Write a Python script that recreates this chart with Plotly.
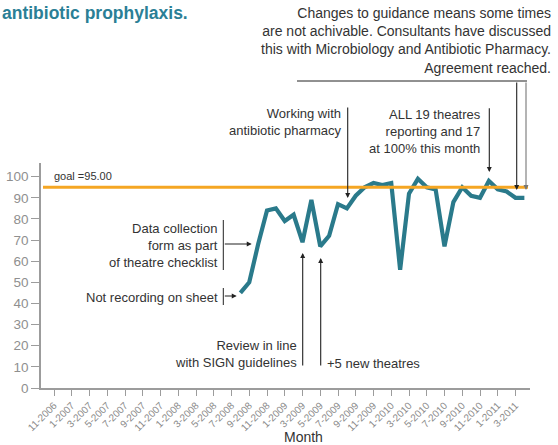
import plotly.graph_objects as go

# ---------------- data ----------------
# month index counted from 11-2006 (=0)
tick_labels = ["11-2006", "1-2007", "3-2007", "5-2007", "7-2007", "9-2007", "11-2007",
               "1-2008", "3-2008", "5-2008", "7-2008", "9-2008", "11-2008",
               "1-2009", "3-2009", "5-2009", "7-2009", "9-2009", "11-2009",
               "1-2010", "3-2010", "5-2010", "7-2010", "9-2010", "11-2010",
               "1-2011", "3-2011"]
months = ["8-2008", "9-2008", "10-2008", "11-2008", "12-2008",
          "1-2009", "2-2009", "3-2009", "4-2009", "5-2009", "6-2009", "7-2009",
          "8-2009", "9-2009", "10-2009", "11-2009", "12-2009",
          "1-2010", "2-2010", "3-2010", "4-2010", "5-2010", "6-2010", "7-2010",
          "8-2010", "9-2010", "10-2010", "11-2010", "12-2010",
          "1-2011", "2-2011", "3-2011", "4-2011"]
values = [45, 50, 68, 84, 85,
          79, 82, 69, 89, 67, 72, 87,
          85, 91, 95, 97, 96,
          97, 56, 92, 99, 95, 94, 67,
          88, 95, 91, 90, 98,
          94, 93, 90, 90]
goal = 95.0
y_ticks = [0, 10, 20, 30, 40, 50, 60, 70, 80, 90, 100]


def month_index(label):
    m, y = label.split("-")
    return (int(y) - 2006) * 12 + int(m) - 11


x_vals = [month_index(m) for m in months]
tick_vals = [month_index(t) for t in tick_labels]

# ---------------- layout geometry (pixels) ----------------
WIDTH, HEIGHT = 558, 445
L, R, T, B = 41, 530, 163, 388
PW, PH = R - L, B - T
X0 = tick_vals[0]
PX_PER_MONTH = 8.875
x_range = [X0 - (54 - L) / PX_PER_MONTH, X0 + (R - 54) / PX_PER_MONTH]
y_range = [0, PH / 2.113]


def xp(px):
    return (px - L) / PW


def yp(py):
    return (B - py) / PH


TEAL = "#2a7a8b"
ORANGE = "#f5a623"
AXIS_GRAY = "#9c9c9c"
TEXT = "#333333"
FONT = "Liberation Sans, Arial, sans-serif"

fig = go.Figure()
fig.add_trace(go.Scatter(
    x=x_vals, y=values, mode="lines",
    line=dict(color=TEAL, width=4.2),
    hoverinfo="skip", showlegend=False,
))

shapes = [
    # goal line
    dict(type="line", xref="paper", yref="y", x0=xp(43), x1=xp(528), y0=goal, y1=goal,
         line=dict(color=ORANGE, width=3)),
    # bars
    dict(type="line", xref="paper", yref="paper", x0=xp(223.3), x1=xp(223.3), y0=yp(220), y1=yp(270),
         line=dict(color="#222", width=1)),
    dict(type="line", xref="paper", yref="paper", x0=xp(223.3), x1=xp(223.3), y0=yp(288), y1=yp(305),
         line=dict(color="#222", width=1)),
    dict(type="line", xref="paper", yref="paper", x0=xp(297), x1=xp(527), y0=yp(81), y1=yp(81),
         line=dict(color="#222", width=1)),
]

annotations = []


def text_ann(txt, px, py, align="right", size=13, color=TEXT, yanchor="middle", **kw):
    annotations.append(dict(
        text=txt, xref="paper", yref="paper", x=xp(px), y=yp(py),
        xanchor={"right": "right", "left": "left", "center": "center"}[align],
        yanchor=yanchor, align=align, showarrow=False,
        font=dict(family=FONT, size=size, color=color), **kw))


def arrow(tip_px, tip_py, tail_px, tail_py, color="#222"):
    annotations.append(dict(
        text="", xref="paper", yref="paper", x=xp(tip_px), y=yp(tip_py),
        axref="pixel", ayref="pixel", ax=tail_px - tip_px, ay=tail_py - tip_py,
        showarrow=True, arrowhead=2, arrowsize=0.9, arrowwidth=1.1,
        arrowcolor=color, standoff=0))


# title fragment
text_ann("<b>antibiotic prophylaxis.</b>", 0, 13, align="left", size=17.5, color="#2b7f96")
# top-right note
text_ann("Changes to guidance means some times<br>are not achivable. Consultants have discussed<br>"
         "this with Microbiology and Antibiotic Pharmacy.<br>Agreement reached.",
         553, 3, align="right", size=14, yanchor="top")
arrow(516.7, 190, 516.7, 81)
arrow(526, 190, 526, 81, color="#777")

text_ann("goal =95.00", 52, 176, align="left", size=11)

text_ann("Data collection<br>form as part<br>of theatre checklist", 220, 245, align="right")
arrow(251.7, 244, 223.3, 244)
text_ann("Not recording on sheet", 220, 297, align="right")
arrow(236.7, 296, 223.3, 296)

text_ann("Review in line<br>with SIGN guidelines", 299, 354, align="right")
arrow(302.7, 253, 302.7, 367)
text_ann("+5 new theatres", 325, 363.3, align="left")
arrow(320.7, 258, 320.7, 367)

text_ann("Working with<br>antibiotic pharmacy", 342.7, 122, align="right")
arrow(347.7, 198, 347.7, 106)

text_ann("ALL 19 theatres<br>reporting and 17<br>at 100% this month", 483.3, 131.5, align="right")
arrow(489.3, 172, 489.3, 106.7)

text_ann("Month", 303, 437, align="center", size=14)

fig.update_layout(
    width=WIDTH, height=HEIGHT,
    margin=dict(l=L, r=WIDTH - R, t=T, b=HEIGHT - B, pad=0),
    paper_bgcolor="white", plot_bgcolor="white",
    font=dict(family=FONT, color=TEXT),
    shapes=shapes, annotations=annotations,
    xaxis=dict(
        range=x_range, tickmode="array", tickvals=tick_vals, ticktext=tick_labels,
        tickangle=-45, tickfont=dict(size=10, color="#8a8a8a", family=FONT),
        ticks="outside", ticklen=6, tickcolor=AXIS_GRAY, tickwidth=1,
        showline=True, linecolor=AXIS_GRAY, linewidth=1.5,
        showgrid=False, zeroline=False, automargin=False,
    ),
    yaxis=dict(
        range=y_range, tickmode="array", tickvals=y_ticks,
        tickfont=dict(size=13.5, color="#8f8f8f", family=FONT),
        ticks="outside", ticklen=8, tickcolor=AXIS_GRAY, tickwidth=1,
        showline=True, linecolor=AXIS_GRAY, linewidth=1.5,
        showgrid=False, zeroline=False, automargin=False,
    ),
)

fig.write_html("out.html", config={"displayModeBar": False},
               post_script="document.body.style.margin='0';document.body.style.overflow='hidden';")
